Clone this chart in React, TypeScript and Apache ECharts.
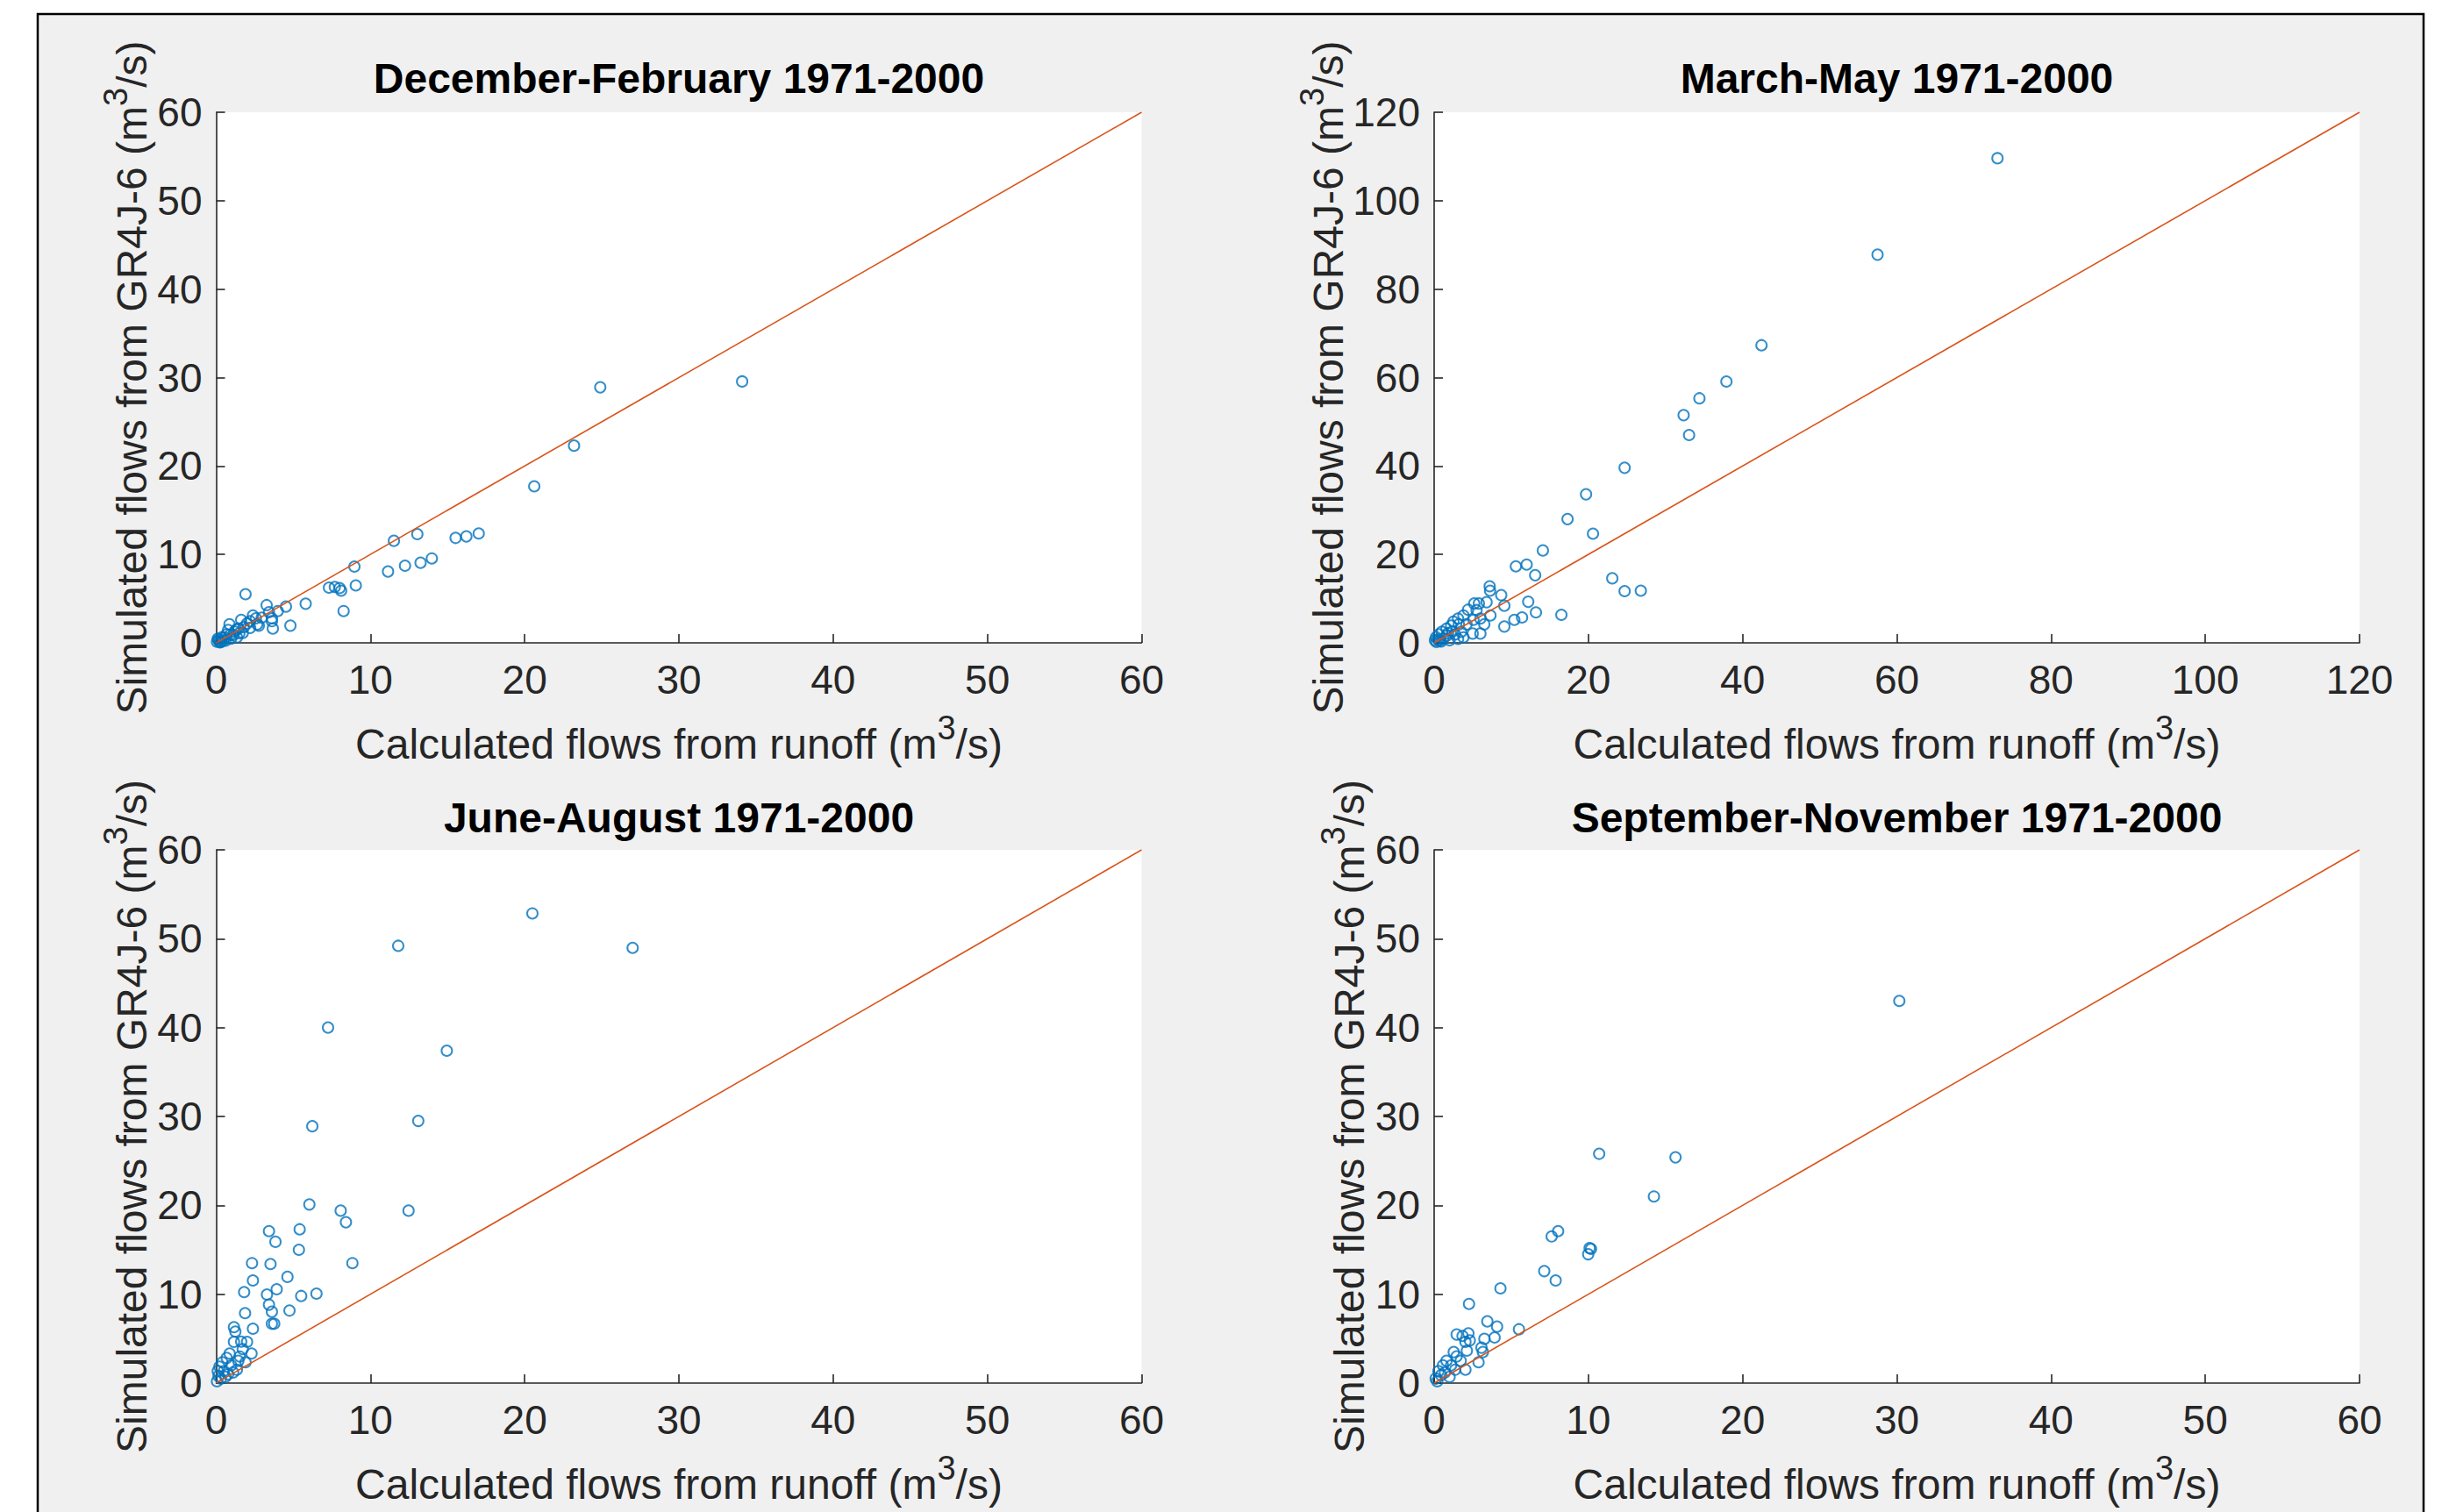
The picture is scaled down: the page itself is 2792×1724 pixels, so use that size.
import React, { useEffect, useRef } from 'react';
import * as echarts from 'echarts';

const FONT = "'Liberation Sans', Arial, Helvetica, sans-serif";
const AXIS_COLOR = '#262626';
const MARKER_COLOR = '#0072BD';
const LINE_COLOR = '#D95319';

// ---- Data ----
const titles = [
  'December-February 1971-2000',
  'March-May 1971-2000',
  'June-August 1971-2000',
  'September-November 1971-2000',
];

const axisMax = [60, 120, 60, 60];
const axisInterval = [10, 20, 10, 10];

const djfPoints = [
  [0.05, 0.13], [0.1, 0.47], [0.2, 0.2], [0.3, 0.1], [0.15, 0.35], [0.25, 0.05], [0.38, 0.63],
  [0.47, 0.3], [0.55, 0.6], [0.6, 0.25], [0.67, 0.96], [0.77, 1.45], [0.86, 2.1], [0.9, 0.9],
  [0.96, 0.47], [1.1, 0.9], [1.19, 1.29], [1.3, 1.5], [1.34, 0.63], [1.43, 1.62], [1.5, 1.1],
  [1.62, 2.6], [1.72, 1.12], [1.79, 1.78], [2.0, 2.2], [2.19, 2.45], [2.2, 1.7], [2.38, 3.1],
  [2.57, 2.78], [2.66, 2.1], [2.76, 1.95], [2.95, 2.85], [3.42, 3.47], [3.61, 2.78], [3.61, 2.45],
  [3.99, 3.6], [1.9, 5.5], [3.27, 4.27], [4.52, 4.1], [5.8, 4.43], [7.31, 6.25], [7.69, 6.32],
  [8.0, 6.2], [8.1, 5.9], [9.05, 6.5], [8.96, 8.63], [8.26, 3.6], [3.67, 1.62], [4.81, 1.95],
  [11.14, 8.07], [12.24, 8.73], [13.25, 9.06], [13.98, 9.55], [11.52, 11.54], [13.04, 12.3],
  [15.52, 11.87], [16.22, 12.04], [17.02, 12.37], [20.62, 17.7], [23.2, 22.3], [24.9, 28.9],
  [34.1, 29.56],
];

const mamPoints = [
  [73.05, 109.6], [57.5, 87.8], [42.45, 67.3], [37.9, 59.1], [34.4, 55.3], [32.35, 51.5],
  [33.06, 47.0], [24.7, 39.6], [19.7, 33.6], [17.3, 28.0], [20.6, 24.7], [14.1, 20.9],
  [10.6, 17.3], [12.0, 17.7], [13.1, 15.3], [23.1, 14.6], [24.7, 11.7], [26.8, 11.8],
  [7.2, 12.8], [7.25, 11.8], [8.7, 10.8], [9.1, 8.4], [12.2, 9.3], [13.2, 6.9], [16.5, 6.35],
  [11.4, 5.75], [10.4, 5.2], [9.1, 3.7], [7.3, 6.2], [6.5, 4.2], [6.0, 2.1], [5.0, 2.1],
  [6.8, 9.2], [5.8, 8.9], [5.2, 8.9], [4.4, 7.5], [5.5, 7.4], [3.8, 6.2], [3.1, 5.5],
  [2.5, 4.8], [3.2, 4.2], [2.2, 3.9], [1.6, 3.2], [1.0, 2.5], [0.6, 1.9], [0.25, 1.3],
  [0.1, 0.6], [1.6, 1.6], [2.7, 1.9], [3.5, 2.5], [3.8, 1.25], [3.1, 0.9], [2.0, 0.6],
  [0.9, 0.3], [4.2, 4.2], [5.1, 5.2], [6.0, 5.5], [0.3, 0.2], [0.5, 0.8], [1.2, 1.0],
  [0.7, 0.5], [1.8, 2.2], [2.4, 2.6],
];

const jjaPoints = [
  [20.5, 52.85], [11.8, 49.2], [27.0, 48.97], [7.25, 40.0], [14.95, 37.4], [6.23, 28.9],
  [13.1, 29.5], [6.04, 20.1], [8.07, 19.4], [8.41, 18.1], [12.47, 19.4], [3.42, 17.1],
  [5.41, 17.3], [3.84, 15.9], [5.36, 15.0], [8.83, 13.5], [2.32, 13.5], [3.52, 13.4],
  [2.38, 11.55], [4.62, 11.95], [1.81, 10.24], [3.29, 9.97], [3.92, 10.56], [5.51, 9.8],
  [6.5, 10.07], [3.42, 8.82], [3.61, 8.03], [1.87, 7.87], [4.75, 8.16], [3.61, 6.68],
  [3.76, 6.68], [2.38, 6.12], [1.15, 6.29], [1.24, 5.8], [1.15, 4.64], [1.62, 4.66],
  [2.0, 4.64], [2.29, 3.33], [1.72, 3.82], [1.53, 2.99], [0.87, 3.33], [0.68, 2.83],
  [0.4, 2.34], [0.21, 1.85], [0.1, 1.36], [0.5, 1.36], [0.97, 2.0], [1.34, 1.5], [1.43, 2.5],
  [0.77, 1.0], [0.3, 0.5], [0.05, 0.2], [1.9, 2.34], [0.15, 0.8], [0.6, 0.7], [1.1, 1.2],
];

const sonPoints = [
  [30.16, 43.0], [10.7, 25.8], [15.65, 25.4], [14.25, 21.0], [7.62, 16.5], [8.04, 17.1],
  [9.99, 14.5], [10.08, 15.2], [10.17, 15.1], [7.14, 12.6], [7.88, 11.55], [4.3, 10.66],
  [2.26, 8.91], [3.45, 6.94], [4.08, 6.35], [5.5, 6.05], [1.46, 5.46], [1.84, 5.3],
  [2.22, 5.6], [2.03, 4.64], [2.31, 4.8], [3.26, 4.97], [3.92, 5.13], [3.07, 3.98],
  [3.16, 3.49], [2.88, 2.34], [2.12, 3.65], [1.27, 3.49], [0.8, 2.5], [1.72, 2.5],
  [2.03, 1.51], [0.57, 2.0], [0.28, 1.34], [0.1, 0.5], [0.45, 0.9], [1.0, 0.7], [1.36, 1.5],
  [1.46, 3.0], [0.2, 0.2], [0.7, 1.2], [1.1, 2.0],
];

const seasonPoints = [djfPoints, mamPoints, jjaPoints, sonPoints];

// 1:1 reference lines
const diagLines = [
  [[0, 0], [60, 60]],
  [[0, 0], [120, 120]],
  [[0, 0], [60, 60]],
  [[0, 0], [60, 60]],
];

const xName = '{n|Calculated flows from runoff (m}{s|3}{n|/s)}';
const yName = '{n|Simulated flows from GR4J-6 (m}{s|3}{n|/s)}';

// ---- Layout ----
const grids = [
  { left: 246.5, top: 128, width: 1055, height: 605 },
  { left: 1635, top: 128, width: 1055, height: 605 },
  { left: 246.5, top: 969, width: 1055, height: 608 },
  { left: 1635, top: 969, width: 1055, height: 608 },
];
const titleTops = [65, 65, 908.5, 908.5];
const yNameGaps = [59, 82, 59, 59];

const richName = {
  n: { fontSize: 48, lineHeight: 75, fontFamily: FONT, color: AXIS_COLOR },
  s: { fontSize: 38, lineHeight: 38, verticalAlign: 'top', fontFamily: FONT, color: AXIS_COLOR },
};

function buildOption() {
  const axisCommon = (i: number) => ({
    gridIndex: i,
    type: 'value',
    min: 0,
    max: axisMax[i],
    interval: axisInterval[i],
    axisLine: { show: true, lineStyle: { color: AXIS_COLOR, width: 1.6 } },
    axisTick: { show: true, inside: true, length: 10, lineStyle: { color: AXIS_COLOR, width: 1.6 } },
    splitLine: { show: false },
    axisLabel: { fontSize: 46, fontFamily: FONT, color: AXIS_COLOR },
    nameLocation: 'middle',
    nameTextStyle: { fontFamily: FONT, color: AXIS_COLOR, rich: richName },
  });

  const xAxis = grids.map((_, i) => ({
    ...axisCommon(i),
    position: 'bottom',
    name: xName,
    nameGap: 78,
    axisLabel: { ...axisCommon(i).axisLabel, margin: 19 },
  }));
  const yAxis = grids.map((_, i) => ({
    ...axisCommon(i),
    position: 'left',
    name: yName,
    nameGap: yNameGaps[i],
    axisLabel: { ...axisCommon(i).axisLabel, margin: 16 },
  }));

  const series: any[] = [];
  seasonPoints.forEach((pts, i) => {
    series.push({
      type: 'scatter',
      xAxisIndex: i,
      yAxisIndex: i,
      data: pts,
      symbol: 'circle',
      symbolSize: 12,
      itemStyle: { color: 'rgba(0,0,0,0)', borderColor: MARKER_COLOR, borderWidth: 2 },
      silent: true,
      z: 2,
    });
    series.push({
      type: 'line',
      xAxisIndex: i,
      yAxisIndex: i,
      data: diagLines[i],
      showSymbol: false,
      symbol: 'none',
      lineStyle: { color: LINE_COLOR, width: 1.6 },
      silent: true,
      z: 3,
    });
  });

  return {
    animation: false,
    backgroundColor: '#ffffff',
    graphic: [
      {
        type: 'rect',
        z: -10,
        silent: true,
        shape: { x: 43, y: 16, width: 2720, height: 1800 },
        style: { fill: '#f0f0f0', stroke: '#000000', lineWidth: 2.5 },
      },
    ],
    title: titles.map((t, i) => ({
      text: t,
      left: grids[i].left + grids[i].width / 2,
      top: titleTops[i],
      textAlign: 'center',
      padding: 0,
      textStyle: { fontSize: 48, fontWeight: 'bold', fontFamily: FONT, color: '#000000' },
    })),
    grid: grids.map((g) => ({
      ...g,
      show: true,
      backgroundColor: '#ffffff',
      borderWidth: 0,
      containLabel: false,
    })),
    xAxis,
    yAxis,
    series,
  };
}

export default function App() {
  const ref = useRef<HTMLDivElement>(null);
  useEffect(() => {
    document.body.style.margin = '0';
    const chart = echarts.init(ref.current as HTMLDivElement, null, { renderer: 'svg' });
    chart.setOption(buildOption() as any);
    return () => {
      chart.dispose();
    };
  }, []);
  return <div ref={ref} style={{ width: 2792, height: 1724 }} />;
}
